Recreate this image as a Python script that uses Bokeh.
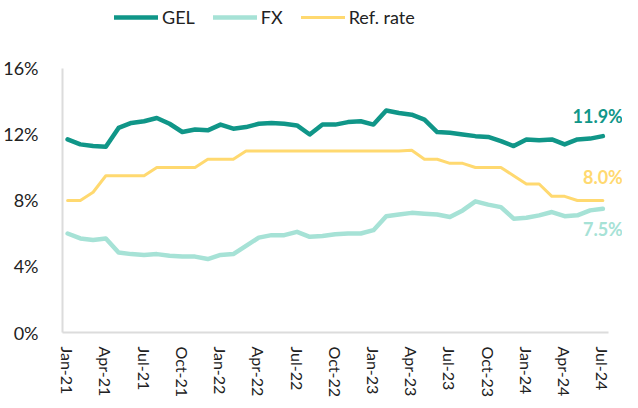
from bokeh.plotting import figure
from bokeh.models import Range1d, FixedTicker, PrintfTickFormatter, Legend, LegendItem, Label
from bokeh.embed import file_html
from bokeh.resources import INLINE

# ---- data (percent) ----
tick_labels = ["Jan-21", "Apr-21", "Jul-21", "Oct-21", "Jan-22", "Apr-22", "Jul-22", "Oct-22",
               "Jan-23", "Apr-23", "Jul-23", "Oct-23", "Jan-24", "Apr-24", "Jul-24"]

gel = [11.7, 11.4, 11.3, 11.25, 12.4, 12.7, 12.8, 13.0, 12.65, 12.15,
       12.3, 12.25, 12.6, 12.35, 12.45, 12.65, 12.7, 12.65, 12.55, 12.0,
       12.6, 12.6, 12.75, 12.8, 12.6, 13.45, 13.3, 13.2, 12.9, 12.15,
       12.1, 12.0, 11.9, 11.85, 11.6, 11.3, 11.7, 11.65, 11.7, 11.4,
       11.7, 11.75, 11.9]

fx = [6.0, 5.7, 5.6, 5.7, 4.85, 4.75, 4.7, 4.75, 4.65, 4.6,
      4.6, 4.45, 4.7, 4.75, 5.25, 5.75, 5.9, 5.9, 6.1, 5.8,
      5.85, 5.95, 6.0, 6.0, 6.2, 7.05, 7.15, 7.25, 7.2, 7.15,
      7.0, 7.4, 7.95, 7.75, 7.6, 6.9, 6.95, 7.1, 7.3, 7.05,
      7.1, 7.4, 7.5]

ref_rate = [8.0, 8.0, 8.5, 9.5, 9.5, 9.5, 9.5, 10.0, 10.0, 10.0,
            10.0, 10.5, 10.5, 10.5, 11.0, 11.0, 11.0, 11.0, 11.0, 11.0,
            11.0, 11.0, 11.0, 11.0, 11.0, 11.0, 11.0, 11.05, 10.5, 10.5,
            10.25, 10.25, 10.0, 10.0, 10.0, 9.5, 9.0, 9.0, 8.25, 8.25,
            8.0, 8.0, 8.0]

y_ticks = [0, 4, 8, 12, 16]

months = list(range(len(gel)))
tick_pos = months[::3]

FONT = "Lato"
C_GEL = "#109688"
C_FX = "#a6e2d6"
C_REF = "#ffd970"
TXT = "#222222"

p = figure(width=622, height=400, output_backend="svg", toolbar_location=None,
           x_range=Range1d(-0.4, 43.54), y_range=Range1d(0, 20.12),
           min_border_left=56, min_border_right=0, min_border_top=0, min_border_bottom=60)
p.outline_line_color = None
p.xgrid.visible = False
p.ygrid.visible = False
p.background_fill_color = "white"
p.border_fill_color = "white"

r_gel = p.line(months, gel, line_color=C_GEL, line_width=4.5, line_join="round", line_cap="round")
r_fx = p.line(months, fx, line_color=C_FX, line_width=4.5, line_join="round", line_cap="round")
r_ref = p.line(months, ref_rate, line_color=C_REF, line_width=3, line_join="round", line_cap="round")

# axes
for ax in (p.xaxis[0], p.yaxis[0]):
    ax.axis_line_color = "#dcdcdc"
    ax.axis_line_width = 2
    ax.major_tick_line_color = None
    ax.minor_tick_line_color = None
    ax.major_label_text_font = FONT
    ax.major_label_text_color = TXT

p.yaxis[0].ticker = FixedTicker(ticks=y_ticks)
p.yaxis[0].formatter = PrintfTickFormatter(format="%d%%")
p.yaxis[0].major_label_standoff = 18
p.yaxis[0].major_label_text_font_size = "18px"
p.yaxis[0].bounds = (0, 16)

p.xaxis[0].ticker = FixedTicker(ticks=tick_pos)
p.xaxis[0].major_label_overrides = {t: lab for t, lab in zip(tick_pos, tick_labels)}
p.xaxis[0].major_label_orientation = "vertical"
p.xaxis[0].major_label_standoff = 8
p.xaxis[0].major_label_text_font_size = "16px"
p.xaxis[0].bounds = (-0.4, 42.45)

# legend
legend = Legend(items=[LegendItem(label="GEL", renderers=[r_gel]),
                       LegendItem(label="FX", renderers=[r_fx]),
                       LegendItem(label="Ref. rate", renderers=[r_ref])],
                orientation="horizontal", location=(52, 304))
legend.label_text_font = FONT
legend.label_text_font_size = "18px"
legend.label_text_color = TXT
legend.glyph_width = 44
legend.glyph_height = 20
legend.label_standoff = 4
legend.spacing = 18
legend.padding = 0
legend.margin = 0
legend.border_line_alpha = 0
legend.background_fill_alpha = 0
p.add_layout(legend)

# end labels
last = months[-1]
for val, col, off in ((gel[-1], C_GEL, 20), (ref_rate[-1], C_REF, 23), (fx[-1], C_FX, -20)):
    p.add_layout(Label(x=last, y=val, text=f"{val:.1f}%", x_offset=20, y_offset=off,
                       text_align="right", text_baseline="middle", text_font=FONT,
                       text_font_style="bold", text_font_size="18px", text_color=col))

open("out.html", "w").write(file_html(p, INLINE))
